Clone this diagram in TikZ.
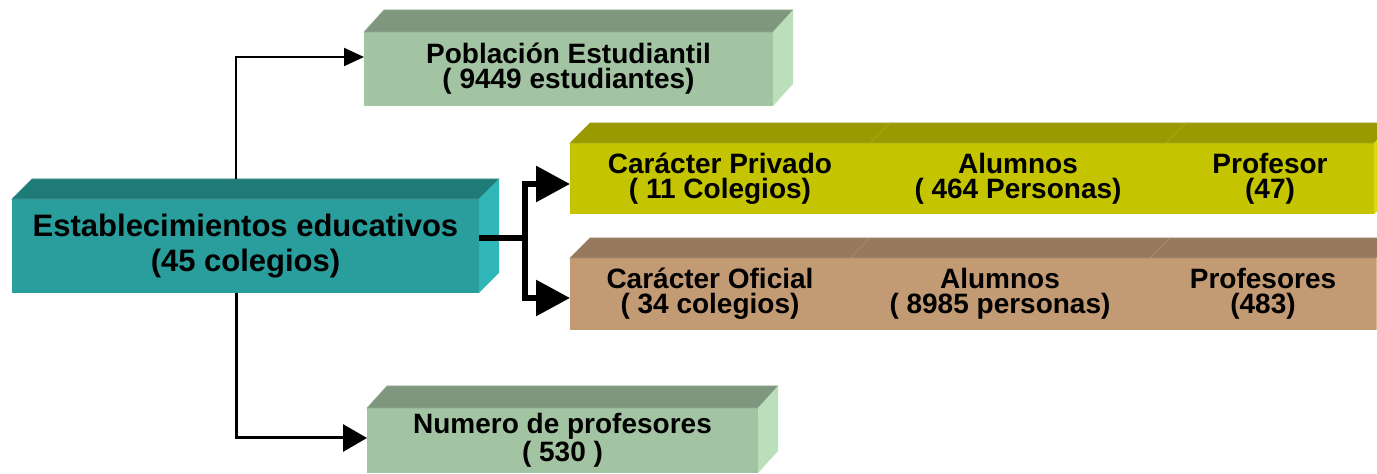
\documentclass[tikz,border=0pt]{standalone}
\usepackage{fontspec}
\setmainfont{Liberation Sans}
\usetikzlibrary{
    positioning,      % For placing the bar segments next to each other
    arrows.meta       % For the filled triangle arrow tips
}
\definecolor{TealFront}{HTML}{2A9D9D}
\definecolor{TealTop}{HTML}{1F7B78}
\definecolor{TealSide}{HTML}{30B6B6}
\definecolor{SageFront}{HTML}{A3C4A3}
\definecolor{SageTop}{HTML}{7F977F}
\definecolor{SageSide}{HTML}{BADFBA}
\definecolor{OliveFront}{HTML}{C4C400}
\definecolor{OliveTop}{HTML}{999900}
\definecolor{OliveSide}{HTML}{DADA10}
\definecolor{TanFront}{HTML}{C29A74}
\definecolor{TanTop}{HTML}{977A5D}
\definecolor{TanSide}{HTML}{D6B28E}

% top and right faces of a 3D block (optional depth, node, top colour, side colour)
\newcommand{\blockfaces}[4][20]{%
    \fill[#3, draw=#3!85!white, line width=0.3pt] (#2.north west) -- ++(20,-#1)
        -- ([shift={(20,-#1)}]#2.north east) -- (#2.north east) -- cycle;
    \fill[#4] (#2.north east) -- ++(20,-#1)
        -- ([shift={(20,-#1)}]#2.south east) -- (#2.south east) -- cycle;
}

\begin{document}
\begin{tikzpicture}[
    % one unit is one pixel of the reference, y grows downwards
    x=0.5pt, y=-0.5pt,
    font=\bfseries,
]
    % --- Define TikZ styles for diagram elements ---
    \tikzset{
        block/.style={
            shape=rectangle,
            inner sep=0pt,
            outer sep=0pt,
            align=center,
            font=\fontsize{14}{12.5}\selectfont\bfseries,
        },
        % Style for the segments of the two bars
        segment/.style={
            block,
            minimum height=35.5pt,
        },
        thinarrow/.style={
            draw, line width=1pt,
            -{Triangle[length=10pt,width=9pt]}
        },
        midarrow/.style={
            draw, line width=1.5pt,
            -{Triangle[length=12pt,width=13.5pt]}
        },
        bigarrow/.style={
            draw, line width=3pt, line join=miter,
            -{Triangle[length=17pt,width=17.5pt]}
        }
    }

    \useasboundingbox (0,0) rectangle (1377,474);
    \clip (0,0) rectangle (1377,474);

    % 1. The main block on the left
    \node[block, fill=TealFront, minimum width=233.5pt, minimum height=47pt,
          font=\fontsize{15.5}{17.5}\selectfont\bfseries] (est) at (245.5,246)
        {Establecimientos educativos\\(45 colegios)};
    \blockfaces{est}{TealTop}{TealSide}

    % 2. Upper and lower green blocks
    \node[block, fill=SageFront, minimum width=204.5pt, minimum height=37pt] (pob) at (568.5,69)
        {Población Estudiantil\\( 9449 estudiantes)};
    \blockfaces[22]{pob}{SageTop}{SageSide}

    \node[block, fill=SageFront, minimum width=195.5pt, minimum height=32.5pt] (num) at (562.5,440.5)
        {Numero de profesores\\( 530 )};
    \blockfaces[22]{num}{SageTop}{SageSide}

    % 3. Yellow bar: private schools
    \node[segment, fill=OliveFront, minimum width=150pt] (priv) at (720,178.5)
        {Carácter Privado\\( 11 Colegios)};
    \blockfaces{priv}{OliveTop}{OliveSide}
    \node[segment, fill=OliveFront, minimum width=148pt, right=0pt of priv] (privalum)
        {Alumnos\\( 464 Personas)};
    \blockfaces{privalum}{OliveTop}{OliveSide}
    \node[segment, fill=OliveFront, minimum width=104pt, right=0pt of privalum] (privprof)
        {Profesor\\(47)};
    \blockfaces{privprof}{OliveTop}{OliveSide}

    % 4. Brown bar: public schools
    \node[segment, fill=TanFront, minimum width=140pt, minimum height=36pt] (ofic) at (710,294)
        {Carácter Oficial\\( 34 colegios)};
    \blockfaces{ofic}{TanTop}{TanSide}
    \node[segment, fill=TanFront, minimum width=150pt, minimum height=36pt, right=0pt of ofic] (oficalum)
        {Alumnos\\( 8985 personas)};
    \blockfaces{oficalum}{TanTop}{TanSide}
    \node[segment, fill=TanFront, minimum width=113pt, minimum height=36pt, right=0pt of oficalum] (oficprof)
        {Profesores\\(483)};
    \blockfaces{oficprof}{TanTop}{TanSide}

    % 5. Connectors
    \draw[thinarrow] ([xshift=-4.75pt,yshift=10pt]est.north) |- ([yshift=6pt]pob.west);
    \draw[midarrow] ([xshift=-4.75pt]est.south) |- ([yshift=1.25pt]num.west);

    \draw[line width=3pt] ([yshift=4pt]est.east) -- ++(46,0) coordinate (fork);
    \draw[bigarrow] (fork) |- ([yshift=-2.75pt]priv.west);
    \draw[bigarrow] (fork) |- ([yshift=-2pt]ofic.west);

\end{tikzpicture}
\end{document}
